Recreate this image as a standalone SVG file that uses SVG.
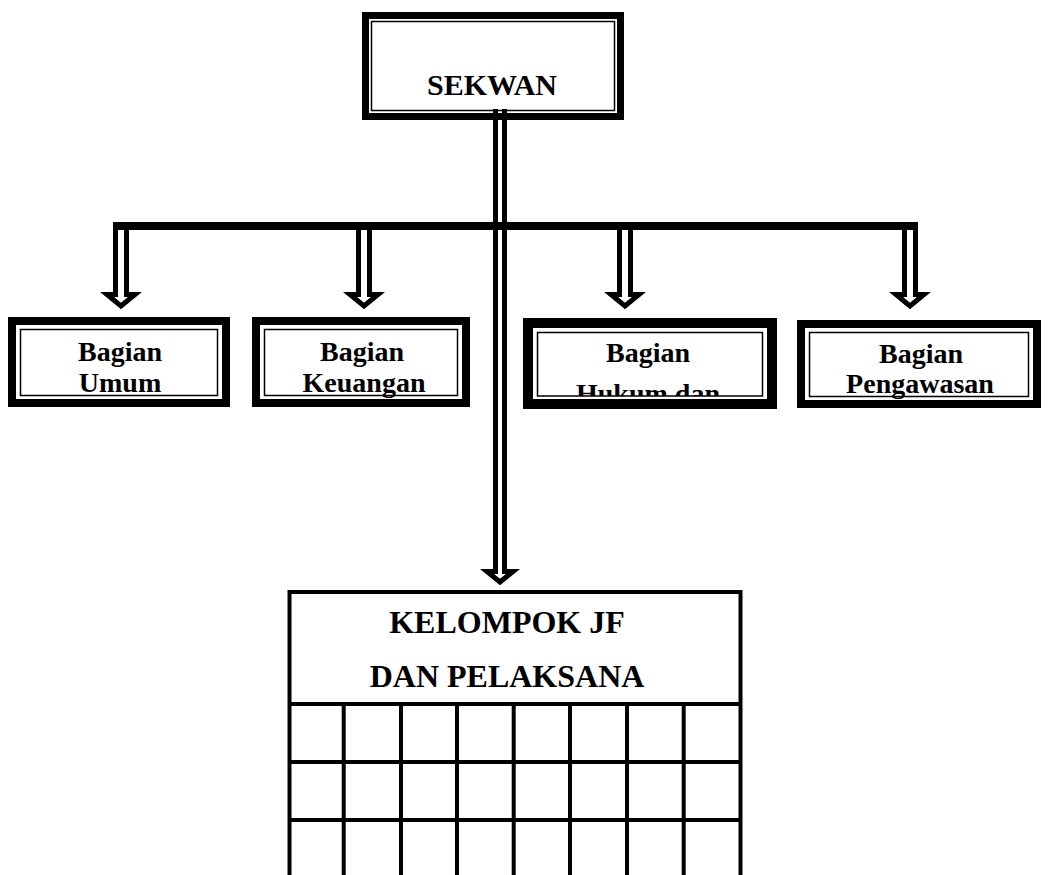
<svg xmlns="http://www.w3.org/2000/svg" width="1048" height="875" viewBox="0 0 1048 875">
<defs>
<style>
.thick{fill:none;stroke:#000;stroke-width:8}
.thin{fill:none;stroke:#000;stroke-width:1.5}
.lbl{font-family:"Liberation Serif","Times New Roman",serif;font-weight:bold;fill:#000;text-anchor:middle}
.arr{fill:#fff;stroke:#000;stroke-width:5;stroke-linejoin:miter;stroke-miterlimit:10}
.grid{fill:none;stroke:#000;stroke-width:4}
</style>
<clipPath id="c3"><rect x="535" y="330" width="230" height="66"/></clipPath>
<path id="arrow" class="arr" d="M -5.5,226 V 294.5 H -14 L 0,306 L 14,294.5 H 5.5 V 226"/>
</defs>
<rect width="1048" height="875" fill="#fff"/>

<g id="connectors">
<use href="#arrow" x="121"/>
<use href="#arrow" x="364"/>
<use href="#arrow" x="625"/>
<use href="#arrow" x="910"/>
<path class="arr" d="M 495.5,109 V 571.5 H 487 L 500,582 L 513,571.5 H 504.5 V 109"/>
<rect x="113" y="222" width="805" height="8" fill="#000"/>
</g>

<g id="sekwan">
<rect x="365.5" y="15.5" width="255" height="101" fill="none" stroke="#000" stroke-width="7"/>
<rect x="371.5" y="21.5" width="243" height="89" class="thin"/>
<text class="lbl" x="492" y="95" font-size="30">SEKWAN</text>
</g>

<g id="bagian-umum">
<rect x="12" y="321" width="214" height="82" class="thick"/>
<rect x="20.5" y="329.5" width="197" height="66" class="thin"/>
<text class="lbl" x="120" y="361" font-size="28">Bagian</text>
<text class="lbl" x="120" y="392" font-size="28">Umum</text>
</g>

<g id="bagian-keuangan">
<rect x="256" y="321" width="210" height="82" class="thick"/>
<rect x="264.5" y="329.5" width="193" height="66" class="thin"/>
<text class="lbl" x="362" y="361" font-size="28">Bagian</text>
<text class="lbl" x="364" y="392" font-size="28">Keuangan</text>
</g>

<g id="bagian-hukum">
<rect x="528" y="323" width="244" height="81" fill="none" stroke="#000" stroke-width="10"/>
<rect x="537.5" y="332.5" width="225" height="63.5" class="thin"/>
<g clip-path="url(#c3)">
<text class="lbl" x="648" y="362" font-size="28">Bagian</text>
<text class="lbl" x="648" y="403" font-size="28">Hukum dan</text>
</g>
</g>

<g id="bagian-pengawasan">
<rect x="801" y="324" width="236" height="80" class="thick"/>
<rect x="809.5" y="332.5" width="219" height="64" class="thin"/>
<text class="lbl" x="921" y="363" font-size="28">Bagian</text>
<text class="lbl" x="920" y="393" font-size="28">Pengawasan</text>
</g>

<g id="kelompok-jf">
<path class="grid" d="M 289.5,880 V 592 H 740.5 V 880"/>
<path class="grid" d="M 289.5,704 H 740.5 M 289.5,762 H 740.5 M 289.5,820 H 740.5"/>
<path class="grid" d="M 343.7,704 V 880 M 401,704 V 880 M 457,704 V 880 M 513.7,704 V 880 M 570,704 V 880 M 627,704 V 880 M 683.7,704 V 880"/>
<text class="lbl" x="507" y="633" font-size="32">KELOMPOK JF</text>
<text class="lbl" x="507" y="687" font-size="32">DAN PELAKSANA</text>
</g>
</svg>
